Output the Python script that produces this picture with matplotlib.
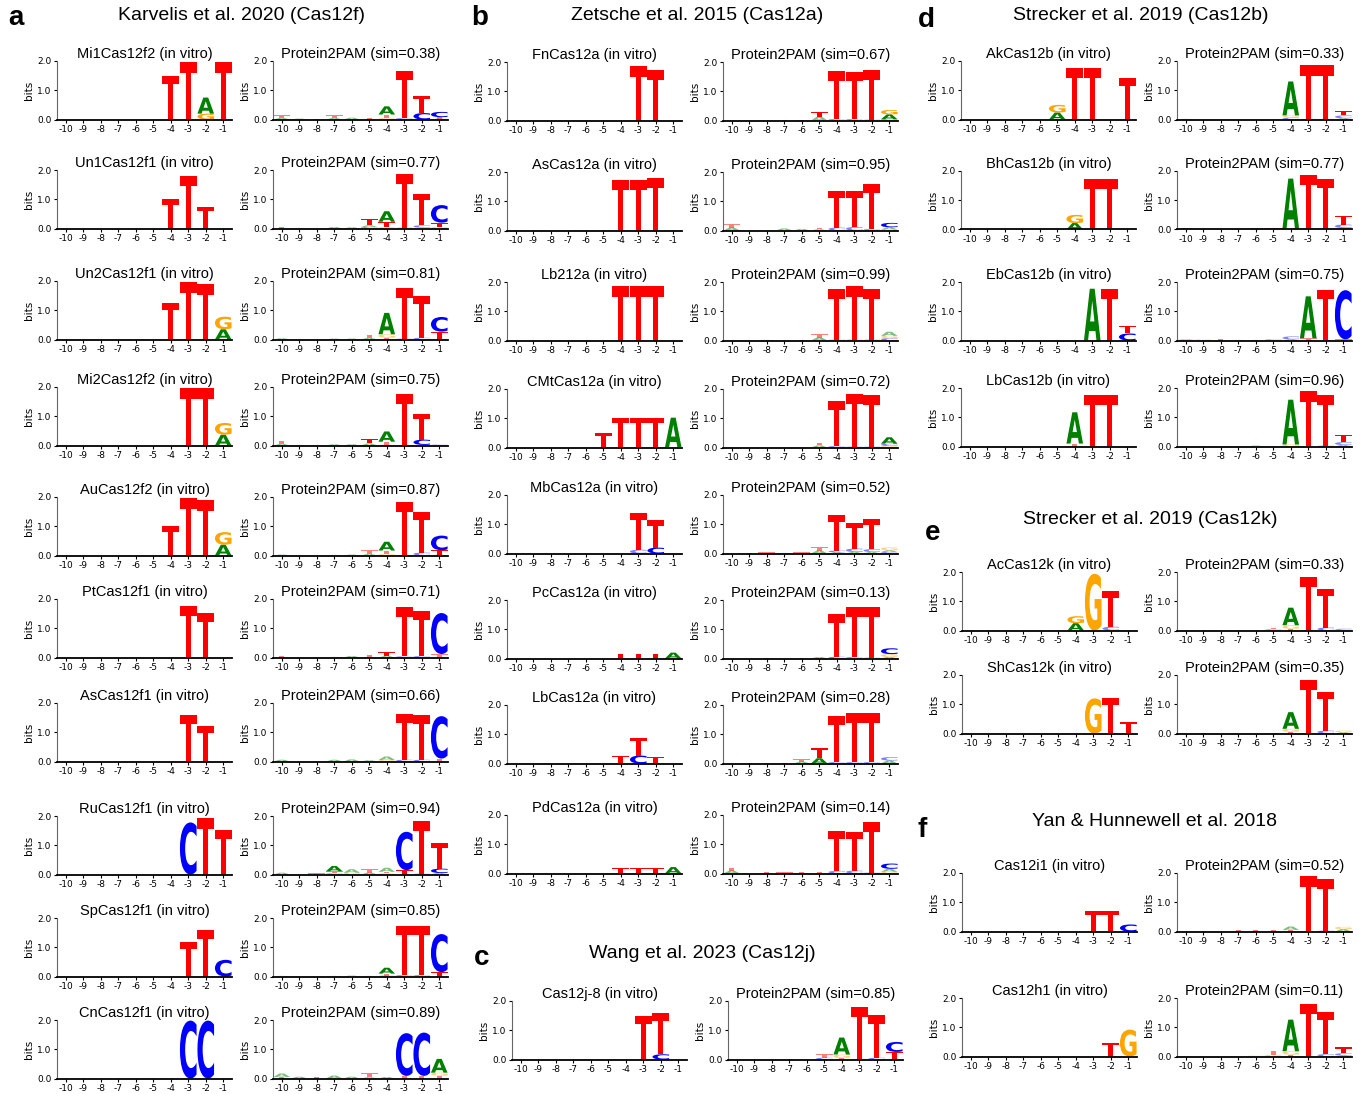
import matplotlib
matplotlib.use("Agg")
import matplotlib.pyplot as plt
from matplotlib.textpath import TextPath
from matplotlib.patches import PathPatch
from matplotlib.font_manager import FontProperties
from matplotlib.transforms import Affine2D

# positions -10 .. -1, each cell = letters bottom->top with their heights in bits
positions = list(range(-10, 0))

# a: Karvelis et al. 2020 (Cas12f)
a_names = ["Mi1Cas12f2", "Un1Cas12f1", "Un2Cas12f1", "Mi2Cas12f2", "AuCas12f2",
           "PtCas12f1", "AsCas12f1", "RuCas12f1", "SpCas12f1", "CnCas12f1"]
a_sims = [0.38, 0.77, 0.81, 0.75, 0.87, 0.71, 0.66, 0.94, 0.85, 0.89]
a_vitro = [
    ["", "", "", "", "", "", "T1.5", "T1.97", "G.2 A.55", "T1.97"],
    ["", "", "", "", "", "", "T1.0", "T1.8", "T.75", ""],
    ["", "", "", "", "", "", "T1.26", "T1.97", "T1.9", "A.35 G.43"],
    ["", "", "", "", "", "", "", "T1.97", "T1.97", "A.37 G.4"],
    ["", "", "", "", "", "", "T1.0", "T1.97", "T1.9", "A.37 G.43"],
    ["", "", "", "", "", "", "", "T1.75", "T1.52", ""],
    ["", "", "", "", "", "", "", "T1.6", "T1.23", ""],
    ["", "", "", "", "", "", "", "C1.78", "T1.92", "T1.52"],
    ["", "", "", "", "", "", "", "T1.17", "T1.6", "C.57"],
    ["", "", "", "", "", "", "", "C1.98", "C1.98", ""],
]
a_pred = [
    ["A.05 T.1", "A.03", "T.02", "A.05 T.1", "A.06", "T.06", "G.05 T.12 A.28", "C.05 T1.6", "C.22 T.6", "A.03 T.05 C.18"],
    ["T.05", "A.02", "", "A.05", "A.04", "C.05 A.06 T.22", "G.05 T.18 A.36", "C.03 T1.85", "G.03 C.08 T1.07", "G.05 T.15 C.6"],
    ["A.04", "", "", "A.03", "A.03", "A.05 T.11", "T.06 G.12 A.73", "C.03 T1.74", "C.06 T1.44", "T.27 C.5"],
    ["A.05 T.11", "A.02", "A.02", "A.04", "A.04", "A.07 T.15", "G.03 T.1 A.35", "C.02 T1.74", "A.02 C.18 T.87", "C.03"],
    ["A.03", "", "", "A.02", "A.03", "A.05 T.13", "G.05 T.12 A.3", "C.02 T1.81", "C.1 T1.4", "A.03 T.15 C.5"],
    ["T.06", "", "", "A.02", "A.05", "T.1", "A.05 T.15", "C.04 T1.67", "C.05 T1.53", "T.12 C1.4"],
    ["A.06", "", "", "A.06", "A.07", "A.04", "G.05 A.12", "C.06 T1.58", "C.06 T1.52", "T.1 C1.45"],
    ["A.06", "", "T.04", "C.04 T.07 A.18", "G.06 A.12", "A.06 T.12", "G.04 T.05 A.14", "T.15 C1.31", "C.03 T1.8", "A.05 C.15 T.86"],
    ["A.02", "", "", "A.02", "A.03", "A.02", "C.03 T.07 A.2", "C.05 T1.68", "C.05 T1.68", "T.15 C1.3"],
    ["T.05 A.12", "A.06", "T.05", "A.1", "A.06", "A.04 T.14", "A.05", "T.09 C1.46", "T.09 C1.48", "T.1 G.1 A.47"],
]

# b: Zetsche et al. 2015 (Cas12a)
b_names = ["FnCas12a", "AsCas12a", "Lb212a", "CMtCas12a", "MbCas12a", "PcCas12a", "LbCas12a", "PdCas12a"]
b_sims = [0.67, 0.95, 0.99, 0.72, 0.52, 0.13, 0.28, 0.14]
b_vitro = [
    ["", "", "", "", "", "", "", "T1.85", "T1.74", ""],
    ["", "", "", "", "", "", "T1.74", "T1.74", "T1.8", ""],
    ["", "", "", "", "", "", "T1.85", "T1.85", "T1.85", ""],
    ["", "", "", "", "", "T.5", "T1.02", "T1.02", "T1.02", "A1.02"],
    ["", "", "", "", "", "", "", "C.13 T1.26", "C.2 T.94", ""],
    ["", "", "", "", "", "", "T.17", "T.17", "T.17", "A.2"],
    ["", "", "", "", "", "", "T.27", "C.27 T.6", "T.23", ""],
    ["", "", "", "", "", "", "T.18", "T.18", "T.18", "A.22"],
]
b_pred = [
    ["", "", "", "T.02", "T.03", "A.13 T.15", "C.05 T1.63", "C.05 T1.61", "C.03 T1.69", "C.04 A.17 G.15"],
    ["A.1 T.11", "", "", "A.07", "A.05", "A.04 T.05", "C.1 T1.26", "C.12 T1.24", "C.05 T1.55", "G.03 A.08 C.15"],
    ["", "", "A.02", "", "T.02", "A.1 T.13", "C.03 T1.74", "C.03 T1.83", "C.03 T1.74", "C.08 G.08 A.14"],
    ["", "", "", "", "", "A.07 T.1", "C.05 T1.53", "C.03 T1.8", "C.03 T1.75", "G.05 C.08 A.22"],
    ["", "T.02", "T.04", "A.02", "T.04", "A.1 T.13", "A.04 C.06 T1.23", "A.05 C.12 T.88", "A.05 C.1 T1.03", "C.05 A.06 G.1"],
    ["", "", "T.02", "", "T.02", "A.05", "C.06 T1.45", "C.05 T1.7", "C.03 T1.74", "A.05 G.1 C.2"],
    ["", "T.02", "T.03", "T.03", "A.06 T.08", "A.18 T.35", "C.05 T1.58", "C.05 T1.67", "C.05 T1.67", "A.1 C.12"],
    ["A.1 T.1", "", "T.05", "T.04", "T.05", "T.05", "C.09 T1.36", "C.1 T1.32", "C.03 T1.72", "G.06 A.1 C.18"],
]

# c: Wang et al. 2023 (Cas12j)
c_names = ["Cas12j-8"]
c_sims = [0.85]
c_vitro = [["", "", "", "", "", "", "", "T1.49", "C.18 T1.42", ""]]
c_pred = [["", "", "", "T.02", "", "C.06 T.12", "T.05 G.12 A.58", "C.02 T1.78", "C.06 T1.45", "T.26 C.34"]]

# d: Strecker et al. 2019 (Cas12b)
d_names = ["AkCas12b", "BhCas12b", "EbCas12b", "LbCas12b"]
d_sims = [0.33, 0.77, 0.75, 0.96]
d_vitro = [
    ["", "", "", "", "", "A.24 G.26", "T1.75", "T1.75", "", "T1.41"],
    ["", "", "", "", "", "", "A.22 G.28", "T1.74", "T1.74", ""],
    ["", "", "", "", "", "", "", "A1.77", "T1.77", "C.24 T.26"],
    ["", "", "", "", "", "", "T.1 A1.07", "T1.77", "T1.77", ""],
]
d_pred = [
    ["A.02", "", "", "", "", "", "C.06 G.08 A1.16", "C.02 T1.84", "C.02 T1.84", "A.04 C.1 T.16"],
    ["A.05", "A.02", "", "A.02", "A.05", "T.04", "G.03 A1.71", "T1.87", "C.03 T1.71", "A.05 C.12 T.3"],
    ["C.02 A.02", "G.04", "T.06", "A.02", "A.02", "C.04", "A.04 C.1", "T.08 A1.43", "A.02 T1.72", "T.04 C1.68"],
    ["", "", "", "", "A.03", "", "G.07 A1.53", "T1.91", "C.03 T1.74", "A.05 C.1 T.26"],
]

# e: Strecker et al. 2019 (Cas12k)
e_names = ["AcCas12k", "ShCas12k"]
e_sims = [0.33, 0.35]
e_vitro = [
    ["", "", "", "", "", "", "A.25 G.24", "G1.94", "C.13 T1.21", ""],
    ["", "", "", "", "", "", "", "G1.2", "T1.2", "T.39"],
]
e_pred = [
    ["", "", "", "", "", "C.04 T.05", "T.06 G.12 A.6", "C.02 T1.81", "C.1 T1.32", "A.02 C.04"],
    ["", "T.03", "", "", "", "T.03", "T.06 G.1 A.57", "T1.83", "C.1 T1.33", "A.04 G.06"],
]

# f: Yan & Hunnewell et al. 2018
f_names = ["Cas12i1", "Cas12h1"]
f_sims = [0.52, 0.11]
f_vitro = [
    ["", "", "", "", "", "", "", "T.7", "T.7", "C.24"],
    ["", "", "", "", "", "", "", "", "T.47", "G.92"],
]
f_pred = [
    ["", "T.02", "", "T.05", "T.05", "T.05", "T.05 A.12", "T1.89", "C.03 T1.77", "A.08 G.08"],
    ["", "", "", "", "G.03", "G.06 T.14", "T.06 G.12 A1.08", "T1.8", "C.08 T1.43", "A.03 C.08 T.2"],
]

colors = {"A": "#008000", "C": "#0000ff", "G": "#ffa500", "T": "#ff0000"}

W, H = 1361, 1094
fig = plt.figure(figsize=(W / 100, H / 100), dpi=100)

glyph_font = FontProperties(family="DejaVu Sans", weight="bold")
glyphs = {c: TextPath((0, 0), c, size=1, prop=glyph_font) for c in "ACGT"}


def draw_logo(ax, stacks, title):
    for pos, cell in zip(positions, stacks):
        y0 = 0.0
        for tok in cell.split():
            ch, h = tok[0], float(tok[1:])
            path = glyphs[ch]
            ext = path.get_extents()
            wd = 0.95
            tr = (Affine2D().translate(-ext.x0, -ext.y0)
                  .scale(wd / ext.width, h / ext.height)
                  .translate(pos - wd / 2, y0))
            ax.add_patch(PathPatch(tr.transform_path(path), facecolor=colors[ch],
                                   edgecolor="none", alpha=1.0 if h >= 0.15 else 0.5))
            y0 += h
    ax.set_xlim(-10.5, -0.5)
    ax.set_ylim(0, 2.0)
    ax.set_xticks(positions)
    ax.set_xticklabels([str(p) for p in positions], fontsize=6.5)
    ax.set_yticks([0, 1, 2])
    ax.set_yticklabels(["0.0", "1.0", "2.0"], fontsize=6.5)
    ax.tick_params(length=2.5, width=0.8, pad=1.5)
    ax.set_ylabel("bits", fontsize=7.5, labelpad=2)
    for s in ["top", "right"]:
        ax.spines[s].set_visible(False)
    ax.spines["left"].set_color("#666666")
    ax.spines["bottom"].set_linewidth(1.3)
    ax.set_title(title, fontsize=10.5, family="Liberation Sans", pad=1.5)


def add_axes(x0, top, w=175, h=58.5):
    return fig.add_axes([x0 / W, 1 - (top + h) / H, w / W, h / H])


panels = [
    (a_names, a_sims, a_vitro, a_pred, [57, 273], [61, 170, 281, 387, 497, 599, 703, 816, 918, 1020]),
    (b_names, b_sims, b_vitro, b_pred, [507, 723], [62, 172, 282, 389, 495, 600, 705, 815]),
    (c_names, c_sims, c_vitro, c_pred, [512, 728], [1001]),
    (d_names, d_sims, d_vitro, d_pred, [961, 1177], [61, 171, 282, 388]),
    (e_names, e_sims, e_vitro, e_pred, [962, 1177], [572, 675]),
    (f_names, f_sims, f_vitro, f_pred, [962, 1177], [873, 998]),
]

for names, sims, vitro, pred, cols, tops in panels:
    for name, sim, sv, sp, top in zip(names, sims, vitro, pred, tops):
        draw_logo(add_axes(cols[0], top), sv, name + " (in vitro)")
        draw_logo(add_axes(cols[1], top), sp, "Protein2PAM (sim=%.2f)" % sim)

headers = [
    ("a", (8, 18), "Karvelis et al. 2020 (Cas12f)", (242, 16)),
    ("b", (471, 18), "Zetsche et al. 2015 (Cas12a)", (697, 16)),
    ("c", (474, 958), "Wang et al. 2023 (Cas12j)", (702, 953)),
    ("d", (918, 20), "Strecker et al. 2019 (Cas12b)", (1141, 16)),
    ("e", (925, 533), "Strecker et al. 2019 (Cas12k)", (1150, 520)),
    ("f", (918, 830), "Yan & Hunnewell et al. 2018", (1155, 822)),
]
for lab, (lx, ly), txt, (hx, hy) in headers:
    fig.text(lx / W, 1 - ly / H, lab, fontsize=20, fontweight="bold",
             family="Liberation Sans", ha="left", va="center")
    fig.text(hx / W, 1 - hy / H, txt, fontsize=14, family="Liberation Sans",
             ha="center", va="center")

fig.savefig("out.png", dpi=100)
